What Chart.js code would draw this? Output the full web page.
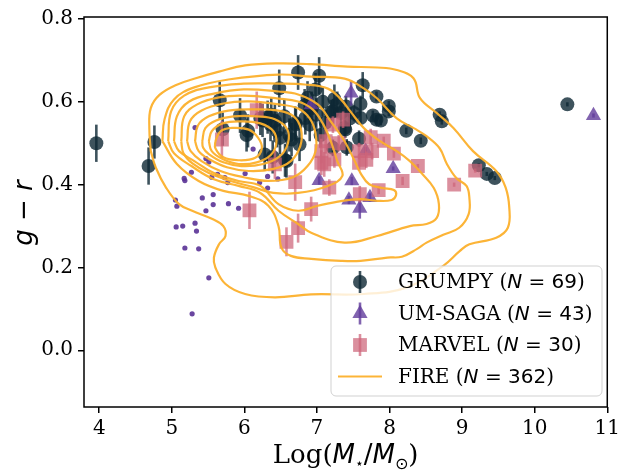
<!DOCTYPE html>
<html lang="en">
<head>
<meta charset="UTF-8">
<title>g - r vs stellar mass</title>
<script src="https://cdn.jsdelivr.net/npm/chart.js"></script>
<style>
  body { margin: 0; background: #fff; }
  #colorChart { display: block; }
</style>
</head>
<body>
<canvas id="colorChart" width="624" height="470"></canvas>
<script>
  // tick labels
  const xTicks = [4, 5, 6, 7, 8, 9, 10, 11];
  const yTicks = [0.0, 0.2, 0.4, 0.6, 0.8];

  // GRUMPY (circles with error bars)
  const grumpyX = [3.96, 4.68, 4.76, 5.66, 5.70, 5.94, 6.03, 6.05, 6.48, 6.74,
    7.03, 6.98, 6.87, 6.32, 6.42, 6.37, 6.71, 6.84, 6.99, 6.49,
    6.76, 6.28, 6.39, 6.58, 7.24, 7.22, 7.38, 7.41, 7.22, 7.63,
    7.82, 7.99, 7.99, 7.60, 7.51, 7.40, 7.19, 7.33, 6.83, 6.70,
    7.77, 7.82, 7.88, 7.60, 7.39, 7.58, 6.65, 6.56, 8.23, 8.43,
    10.45, 8.69, 8.72, 9.23, 9.34, 9.45, 6.25, 6.36, 6.45, 6.62,
    6.93, 7.08, 7.12, 6.22, 6.90, 7.28, 6.55, 7.45, 7.05];
  const grumpyY = [0.500, 0.445, 0.503, 0.604, 0.534, 0.567, 0.520, 0.530, 0.633, 0.671,
    0.663, 0.630, 0.610, 0.563, 0.554, 0.569, 0.546, 0.561, 0.569, 0.513,
    0.497, 0.473, 0.467, 0.457, 0.607, 0.577, 0.537, 0.490, 0.489, 0.640,
    0.613, 0.590, 0.577, 0.595, 0.573, 0.589, 0.575, 0.573, 0.591, 0.549,
    0.567, 0.557, 0.555, 0.561, 0.533, 0.511, 0.509, 0.459, 0.530, 0.506,
    0.594, 0.569, 0.553, 0.447, 0.426, 0.416, 0.555, 0.545, 0.530, 0.520,
    0.585, 0.600, 0.550, 0.560, 0.545, 0.595, 0.565, 0.560, 0.520];
  const grumpyErr = [0.045, 0.045, 0.040, 0.045, 0.040, 0.042, 0.040, 0.040, 0.045, 0.042,
    0.045, 0.040, 0.040, 0.040, 0.040, 0.040, 0.040, 0.040, 0.040, 0.040,
    0.040, 0.040, 0.040, 0.040, 0.035, 0.030, 0.020, 0.020, 0.020, 0.032,
    0.012, 0.012, 0.012, 0.020, 0.020, 0.025, 0.030, 0.025, 0.040, 0.040,
    0.012, 0.012, 0.012, 0.015, 0.020, 0.020, 0.040, 0.040, 0.008, 0.008,
    0.005, 0.008, 0.008, 0.005, 0.005, 0.005, 0.040, 0.040, 0.040, 0.040,
    0.040, 0.035, 0.030, 0.040, 0.040, 0.030, 0.040, 0.020, 0.030];

  // UM-SAGA: triangles (higher mass) and small dots
  const sagaX = [7.47, 8.05, 7.03, 7.48, 7.44, 7.73, 7.59, 10.81, 7.67, 6.92];
  const sagaY = [0.621, 0.439, 0.410, 0.409, 0.363, 0.369, 0.343, 0.567, 0.481, 0.593];
  const sagaErr = [0.030, 0.005, 0.010, 0.010, 0.010, 0.010, 0.025, 0.005, 0.010, 0.010];
  const sagaDotX = [5.32, 6.12, 5.47, 5.51, 5.17, 5.18, 5.27, 5.55, 5.63, 5.73, 5.77, 6.01, 6.21, 6.32, 6.32, 6.46,
    5.05, 5.07, 5.42, 5.57, 5.57, 5.47, 5.78, 5.92, 5.06, 5.15, 5.32, 5.34, 5.18, 5.37, 5.51, 5.28];
  const sagaDotY = [0.538, 0.486, 0.463, 0.455, 0.415, 0.410, 0.430, 0.418, 0.425, 0.417, 0.405, 0.427, 0.405, 0.420, 0.392, 0.414,
    0.363, 0.348, 0.368, 0.376, 0.352, 0.337, 0.354, 0.343, 0.298, 0.300, 0.307, 0.288, 0.247, 0.245, 0.175, 0.088];

  // MARVEL (squares with error bars)
  const marvelX = [5.69, 6.17, 6.42, 6.70, 6.07, 6.92, 6.74, 6.58, 7.22, 7.36,
    7.12, 7.06, 7.24, 7.10, 7.17, 7.58, 7.58, 7.74, 7.76, 7.92,
    8.06, 8.39, 8.18, 8.89, 9.18, 7.85, 7.59, 7.06, 7.30, 7.68];
  const marvelY = [0.509, 0.580, 0.449, 0.406, 0.338, 0.341, 0.295, 0.262, 0.545, 0.557,
    0.505, 0.481, 0.461, 0.449, 0.393, 0.481, 0.453, 0.515, 0.481, 0.506,
    0.475, 0.445, 0.409, 0.400, 0.434, 0.387, 0.377, 0.453, 0.500, 0.460];
  const marvelErr = [0.045, 0.045, 0.035, 0.045, 0.045, 0.030, 0.035, 0.035, 0.020, 0.020,
    0.030, 0.030, 0.020, 0.030, 0.020, 0.020, 0.020, 0.020, 0.020, 0.010,
    0.010, 0.005, 0.010, 0.005, 0.005, 0.010, 0.020, 0.030, 0.020, 0.020];

  // FIRE density contours, outermost first, [logM, g-r]
  const fire1 = [[4.71,0.481],[4.69,0.537],[4.71,0.585],[4.83,0.617],[5.06,0.641],[5.33,0.657],[5.65,0.673],[6.01,0.688],
    [6.47,0.693],[6.92,0.691],[7.42,0.685],[7.83,0.683],[8.10,0.677],[8.33,0.657],[8.42,0.609],[8.65,0.573],[8.88,0.537],
    [9.15,0.481],[9.47,0.433],[9.60,0.393],[9.65,0.344],[9.63,0.296],[9.47,0.272],[9.10,0.256],[8.97,0.240],[8.74,0.204],
    [8.24,0.152],[7.65,0.136],[6.92,0.135],[6.42,0.128],[6.01,0.136],[5.74,0.160],[5.60,0.200],[5.58,0.224],[5.65,0.256],
    [5.74,0.276],[5.71,0.300],[5.56,0.317],[5.28,0.337],[5.10,0.353],[4.92,0.393],[4.78,0.441],[4.71,0.481]];
  const fire2 = [[4.87,0.505],[4.90,0.558],[5.03,0.606],[5.31,0.635],[5.78,0.654],[6.47,0.666],[6.92,0.661],[7.38,0.656],
    [7.65,0.632],[7.83,0.608],[8.10,0.560],[8.34,0.536],[8.51,0.517],[8.69,0.488],[8.79,0.450],[8.92,0.416],[9.06,0.397],
    [9.10,0.368],[9.09,0.329],[8.96,0.296],[8.74,0.279],[8.51,0.260],[8.38,0.245],[8.17,0.226],[7.97,0.224],[7.60,0.216],
    [7.33,0.216],[6.92,0.221],[6.64,0.228],[6.51,0.248],[6.47,0.300],[6.33,0.349],[6.06,0.373],[5.71,0.385],[5.37,0.409],
    [5.07,0.450],[4.87,0.505]];
  const fire3 = [[4.95,0.505],[4.99,0.577],[5.17,0.615],[5.51,0.635],[5.99,0.644],[6.47,0.644],[6.83,0.642],[7.15,0.632],
    [7.33,0.606],[7.46,0.577],[7.65,0.536],[7.87,0.505],[8.10,0.481],[8.28,0.457],[8.44,0.428],[8.61,0.392],[8.68,0.353],
    [8.65,0.320],[8.51,0.305],[8.28,0.300],[7.83,0.276],[7.38,0.260],[6.92,0.284],[6.74,0.305],[6.47,0.337],[6.22,0.380],
    [5.92,0.397],[5.58,0.413],[5.27,0.445],[5.03,0.476],[4.95,0.505]];
  const fire4 = [[5.03,0.505],[5.07,0.565],[5.24,0.601],[5.58,0.620],[5.99,0.630],[6.47,0.625],[6.74,0.618],[7.01,0.594],
    [7.19,0.553],[7.38,0.505],[7.52,0.457],[7.60,0.428],[7.72,0.401],[7.90,0.392],[8.06,0.387],[8.09,0.375],[8.03,0.363],
    [7.83,0.361],[7.60,0.365],[7.35,0.361],[7.01,0.349],[6.74,0.337],[6.47,0.353],[6.22,0.397],[5.92,0.409],[5.58,0.428],
    [5.31,0.457],[5.10,0.481],[5.03,0.505]];
  const fire5 = [[5.13,0.505],[5.17,0.565],[5.35,0.594],[5.65,0.611],[5.99,0.615],[6.47,0.608],[6.74,0.601],[6.94,0.582],
    [7.08,0.548],[7.19,0.505],[7.28,0.457],[7.35,0.421],[7.15,0.397],[6.74,0.380],[6.40,0.380],[6.12,0.394],[5.81,0.409],
    [5.51,0.428],[5.28,0.452],[5.16,0.476],[5.13,0.505]];
  const fire6 = [[5.21,0.505],[5.25,0.553],[5.41,0.579],[5.71,0.596],[6.06,0.601],[6.47,0.594],[6.74,0.584],[6.90,0.560],
    [6.98,0.524],[6.98,0.481],[6.87,0.445],[6.67,0.418],[6.33,0.409],[5.99,0.418],[5.67,0.433],[5.41,0.457],[5.26,0.481],
    [5.21,0.505]];
  const fire7 = [[5.32,0.505],[5.36,0.543],[5.51,0.565],[5.78,0.579],[6.12,0.582],[6.47,0.579],[6.68,0.565],[6.78,0.534],
    [6.77,0.493],[6.64,0.457],[6.40,0.438],[6.06,0.433],[5.76,0.442],[5.51,0.462],[5.37,0.481],[5.32,0.505]];
  const fire8 = [[5.42,0.505],[5.46,0.536],[5.61,0.555],[5.85,0.565],[6.17,0.565],[6.42,0.558],[6.59,0.534],[6.60,0.500],
    [6.49,0.469],[6.26,0.450],[5.96,0.445],[5.71,0.454],[5.51,0.474],[5.43,0.490],[5.42,0.505]];
  const fire9 = [[5.51,0.505],[5.55,0.529],[5.70,0.548],[5.95,0.553],[6.22,0.548],[6.40,0.529],[6.44,0.500],[6.36,0.471],
    [6.17,0.454],[5.92,0.450],[5.70,0.462],[5.55,0.481],[5.51,0.505]];
  const fire10 = [[5.60,0.505],[5.67,0.529],[5.83,0.537],[6.06,0.533],[6.19,0.513],[6.24,0.488],[6.15,0.465],[5.92,0.459],
    [5.71,0.466],[5.60,0.488],[5.60,0.505]];
  const fireContours = [fire1, fire2, fire3, fire4, fire5, fire6, fire7, fire8, fire9, fire10];

  const legendNames = ['GRUMPY', 'UM-SAGA', 'MARVEL', 'FIRE'];
  const legendCounts = [69, 43, 30, 362];

  const cGrumpy = 'rgba(14,40,52,0.8)';
  const cSaga = 'rgba(98,60,155,0.8)';
  const cMarvel = 'rgba(205,100,120,0.72)';
  const cFire = 'rgba(252,176,44,0.95)';
  const serif = '"DejaVu Serif"';
  const sans = '"DejaVu Sans"';

  const pts = (xs, ys) => xs.map((x, i) => ({ x: x, y: ys[i] }));

  const datasets = [];
  fireContours.forEach((c, i) => {
    datasets.push({
      label: 'FIRE ' + i,
      data: c.map(p => ({ x: p[0], y: p[1] })),
      showLine: true, tension: 0.4, pointRadius: 0,
      borderColor: cFire, borderWidth: 2.2, fill: false, order: 0
    });
  });
  datasets.push({ label: 'MARVEL', data: pts(marvelX, marvelY), errs: marvelErr, errColor: cMarvel,
    pointStyle: 'rect', pointRadius: 9.8, backgroundColor: cMarvel, borderWidth: 0, order: 1 });
  datasets.push({ label: 'UM-SAGA', data: pts(sagaX, sagaY), errs: sagaErr, errColor: cSaga,
    pointStyle: 'triangle', pointRadius: 8.8, backgroundColor: cSaga, borderWidth: 0, order: 2 });
  datasets.push({ label: 'UM-SAGA dots', data: pts(sagaDotX, sagaDotY),
    pointStyle: 'circle', pointRadius: 2.6, backgroundColor: 'rgba(90,50,150,0.9)', borderWidth: 0, order: 2 });
  datasets.push({ label: 'GRUMPY', data: pts(grumpyX, grumpyY), errs: grumpyErr, errColor: cGrumpy,
    pointStyle: 'circle', pointRadius: 7, backgroundColor: cGrumpy, borderWidth: 0, order: 3 });

  // vertical error bars, drawn just under their own markers
  const errorBars = {
    id: 'errorBars',
    beforeDatasetDraw(chart, args) {
      const ds = chart.data.datasets[args.index];
      if (!ds.errs) return;
      const ctx = chart.ctx, ys = chart.scales.y;
      ctx.save();
      ctx.strokeStyle = ds.errColor;
      ctx.lineWidth = 2.6;
      args.meta.data.forEach((el, i) => {
        const d = ds.data[i];
        ctx.beginPath();
        ctx.moveTo(el.x, ys.getPixelForValue(d.y - ds.errs[i]));
        ctx.lineTo(el.x, ys.getPixelForValue(d.y + ds.errs[i]));
        ctx.stroke();
      });
      ctx.restore();
    }
  };

  function drawSegs(ctx, x, y, segs) {
    segs.forEach(s => {
      ctx.font = s[1];
      ctx.fillText(s[0], x, y + (s[2] || 0));
      x += ctx.measureText(s[0]).width;
    });
    return x;
  }
  function segsWidth(ctx, segs) {
    let w = 0;
    segs.forEach(s => { ctx.font = s[1]; w += ctx.measureText(s[0]).width; });
    return w;
  }

  const decorations = {
    id: 'decorations',
    afterDraw(chart) {
      const ctx = chart.ctx, a = chart.chartArea;
      ctx.save();
      // frame
      ctx.strokeStyle = '#000';
      ctx.lineWidth = 1.5;
      ctx.strokeRect(a.left, a.top, a.right - a.left, a.bottom - a.top);

      // legend
      const lx = 331, ly = 266, lw = 271, lh = 130;
      ctx.beginPath();
      ctx.roundRect(lx, ly, lw, lh, 5);
      ctx.fillStyle = 'rgba(255,255,255,0.8)';
      ctx.fill();
      ctx.strokeStyle = 'rgba(204,204,204,0.9)';
      ctx.lineWidth = 1;
      ctx.stroke();
      const mx = 360, rows = [282, 313.5, 345, 376.5];
      ctx.textBaseline = 'middle';
      rows.forEach((ry, i) => {
        ctx.fillStyle = '#000';
        drawSegs(ctx, 398, ry + 1, [
          [legendNames[i] + ' (', '20px ' + serif],
          ['N', 'italic 20px ' + sans],
          [' = ' + legendCounts[i], '20px ' + sans],
          [')', '20px ' + serif]
        ]);
        if (i === 3) {
          ctx.strokeStyle = cFire; ctx.lineWidth = 2.2;
          ctx.beginPath(); ctx.moveTo(338, ry); ctx.lineTo(382, ry); ctx.stroke();
          return;
        }
        const col = [cGrumpy, cSaga, cMarvel][i];
        ctx.strokeStyle = col; ctx.lineWidth = 2.6;
        ctx.beginPath(); ctx.moveTo(mx, ry - 11); ctx.lineTo(mx, ry + 11); ctx.stroke();
        ctx.fillStyle = col;
        ctx.beginPath();
        if (i === 0) ctx.arc(mx, ry, 7, 0, Math.PI * 2);
        if (i === 1) { ctx.moveTo(mx, ry - 8.8); ctx.lineTo(mx + 7.6, ry + 4.4); ctx.lineTo(mx - 7.6, ry + 4.4); ctx.closePath(); }
        if (i === 2) ctx.rect(mx - 6.9, ry - 6.9, 13.8, 13.8);
        ctx.fill();
      });

      // axis titles
      ctx.fillStyle = '#000';
      ctx.textBaseline = 'alphabetic';
      const xt = [
        ['Log(', '26px ' + serif],
        ['M', 'italic 26px ' + sans],
        ['\u22c6', '14px ' + sans, 5],
        ['/', '26px ' + sans],
        ['M', 'italic 26px ' + sans],
        ['\u2299', '16px ' + sans, 6],
        [')', '26px ' + serif]
      ];
      const cx = (a.left + a.right) / 2;
      drawSegs(ctx, cx - segsWidth(ctx, xt) / 2, 463, xt);

      const yt = [
        ['g', 'italic 26px ' + sans],
        [' \u2212 ', '26px ' + sans],
        ['r', 'italic 26px ' + sans]
      ];
      ctx.translate(32, 213);
      ctx.rotate(-Math.PI / 2);
      drawSegs(ctx, -segsWidth(ctx, yt) / 2, 0, yt);
      ctx.restore();
    }
  };

  const ctx = document.getElementById('colorChart').getContext('2d');
  const chart = new Chart(ctx, {
    type: 'scatter',
    data: { datasets: datasets },
    options: {
      responsive: false,
      animation: false,
      devicePixelRatio: 1,
      layout: { padding: { left: 0, right: 12, top: 13, bottom: 0 } },
      plugins: { legend: { display: false }, tooltip: { enabled: false } },
      scales: {
        x: {
          type: 'linear', min: 3.79, max: 11,
          afterBuildTicks: s => { s.ticks = xTicks.map(v => ({ value: v })); },
          afterFit: s => { s.height = 63; },
          border: { display: false },
          grid: { drawOnChartArea: false, drawTicks: true, tickLength: 6, color: '#000', lineWidth: 1.5 },
          ticks: { color: '#000', padding: 4, maxRotation: 0, font: { family: 'DejaVu Serif', size: 20 },
            callback: v => String(v) }
        },
        y: {
          type: 'linear', min: -0.137, max: 0.805,
          afterBuildTicks: s => { s.ticks = yTicks.map(v => ({ value: v })); },
          afterFit: s => { s.width = 84; },
          border: { display: false },
          grid: { drawOnChartArea: false, drawTicks: true, tickLength: 6, color: '#000', lineWidth: 1.5 },
          ticks: { color: '#000', padding: 5, font: { family: 'DejaVu Serif', size: 20 },
            callback: v => v.toFixed(1) }
        }
      }
    },
    plugins: [errorBars, decorations]
  });
</script>
</body>
</html>
